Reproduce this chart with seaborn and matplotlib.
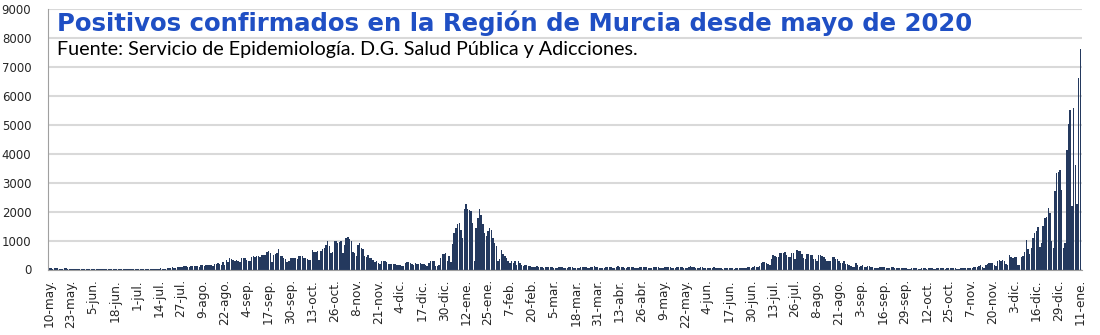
import matplotlib
matplotlib.use("Agg")
import matplotlib.pyplot as plt
import seaborn as sns
import numpy as np
import pandas as pd

# ---- data: daily confirmed positives, 10-May-2020 .. 11-Jan-2022 (13-day blocks) ----
b01 = [40, 35, 30, 38, 42, 36, 28, 25, 34, 40, 38, 30, 26]
b02 = [22, 18, 25, 30, 28, 24, 20, 15, 12, 22, 26, 20, 18]
b03 = [20, 14, 12, 18, 22, 20, 16, 14, 10, 16, 20, 24, 18]
b04 = [16, 12, 10, 18, 22, 20, 24, 18, 14, 20, 25, 22, 26]
b05 = [24, 28, 20, 16, 22, 30, 28, 26, 32, 24, 18, 26, 34]
b06 = [30, 36, 32, 28, 24, 40, 55, 60, 70, 65, 45, 70, 80]
b07 = [75, 90, 120, 110, 100, 70, 120, 130, 125, 135, 110, 90, 140]
b08 = [150, 120, 160, 170, 150, 140, 120, 175, 190, 210, 200, 170, 250]
b09 = [150, 330, 270, 390, 380, 330, 300, 330, 295, 250, 410, 400, 410]
b10 = [330, 300, 280, 420, 450, 440, 460, 450, 430, 500, 490, 510, 620]
b11 = [650, 560, 250, 500, 540, 560, 720, 470, 450, 390, 380, 270, 300]
b12 = [390, 400, 410, 400, 380, 480, 470, 460, 400, 390, 350, 330, 340]
b13 = [680, 620, 600, 650, 330, 640, 720, 740, 860, 1000, 800, 560, 600]
b14 = [975, 1000, 920, 940, 975, 560, 860, 1090, 1120, 1040, 1000, 620, 560]
b15 = [450, 860, 920, 740, 700, 450, 420, 500, 390, 400, 330, 270, 300]
b16 = [210, 200, 295, 300, 280, 250, 175, 200, 190, 200, 180, 160, 150]
b17 = [170, 130, 115, 210, 250, 260, 240, 200, 150, 210, 200, 190, 230]
b18 = [200, 190, 170, 120, 230, 280, 300, 290, 120, 130, 160, 400, 520]
b19 = [520, 580, 300, 480, 250, 890, 1270, 1440, 1580, 1610, 1380, 1100, 2080]
b20 = [2270, 2080, 2040, 2020, 1610, 290, 1440, 1790, 2080, 1900, 1560, 1270, 1150]
b21 = [1330, 1440, 1380, 1100, 920, 800, 290, 350, 690, 520, 460, 400, 290]
b22 = [230, 290, 230, 290, 170, 290, 230, 150, 115, 170, 150, 130, 110]
b23 = [100, 80, 95, 110, 90, 85, 70, 60, 90, 100, 80, 75, 70]
b24 = [65, 55, 40, 70, 80, 75, 60, 50, 45, 85, 90, 70, 65]
b25 = [60, 50, 40, 75, 95, 80, 70, 55, 45, 70, 85, 110, 90]
b26 = [70, 60, 45, 35, 40, 80, 100, 90, 75, 55, 45, 95, 110]
b27 = [90, 85, 70, 55, 50, 100, 95, 85, 80, 65, 50, 45, 90]
b28 = [95, 85, 80, 70, 55, 40, 60, 100, 90, 85, 70, 55, 45]
b29 = [40, 80, 95, 90, 75, 65, 50, 45, 85, 100, 95, 80, 60]
b30 = [50, 45, 95, 110, 90, 80, 60, 45, 40, 70, 75, 65, 55]
b31 = [50, 40, 35, 60, 70, 65, 55, 45, 35, 30, 55, 65, 60]
b32 = [55, 45, 35, 30, 50, 55, 60, 55, 50, 40, 45, 70, 80]
b33 = [60, 100, 115, 100, 70, 120, 240, 260, 265, 240, 200, 150, 380]
b34 = [500, 460, 415, 420, 580, 580, 560, 610, 500, 440, 440, 580, 560]
b35 = [380, 670, 650, 630, 550, 400, 380, 530, 540, 500, 500, 380, 380]
b36 = [300, 500, 500, 460, 440, 380, 300, 280, 300, 440, 420, 380, 360]
b37 = [300, 220, 210, 310, 185, 180, 150, 120, 90, 100, 230, 170, 90]
b38 = [120, 140, 80, 70, 115, 110, 100, 90, 50, 45, 60, 90, 85]
b39 = [95, 80, 50, 45, 60, 75, 70, 55, 40, 35, 50, 60, 55]
b40 = [50, 45, 30, 28, 45, 55, 50, 40, 30, 25, 35, 50, 45]
b41 = [30, 40, 45, 40, 30, 25, 45, 55, 50, 45, 35, 30, 40]
b42 = [55, 60, 50, 45, 35, 30, 25, 45, 60, 55, 50, 40, 35]
b43 = [60, 50, 80, 90, 100, 130, 150, 80, 60, 170, 200, 220, 240]
b44 = [230, 150, 120, 300, 320, 280, 330, 300, 180, 160, 500, 420, 400]
b45 = [415, 420, 150, 150, 440, 450, 600, 1015, 700, 550, 730, 1100, 1250]
b46 = [1330, 1480, 785, 900, 1500, 1765, 1800, 2110, 1940, 1000, 730, 2720, 3320]
b47 = [3360, 3440, 2750, 730, 900, 4130, 5030, 5510, 2200, 5570, 3610, 2280, 6610]
b48 = [7610]

tick_labels = ["10-may.", "23-may.", "5-jun.", "18-jun.", "1-jul.", "14-jul.", "27-jul.",
               "9-ago.", "22-ago.", "4-sep.", "17-sep.", "30-sep.", "13-oct.", "26-oct.",
               "8-nov.", "21-nov.", "4-dic.", "17-dic.", "30-dic.", "12-ene.", "25-ene.",
               "7-feb.", "20-feb.", "5-mar.", "18-mar.", "31-mar.", "13-abr.", "26-abr.",
               "9-may.", "22-may.", "4-jun.", "17-jun.", "30-jun.", "13-jul.", "26-jul.",
               "8-ago.", "21-ago.", "3-sep.", "16-sep.", "29-sep.", "12-oct.", "25-oct.",
               "7-nov.", "20-nov.", "3-dic.", "16-dic.", "29-dic.", "11-ene."]
y_ticks = [0, 1000, 2000, 3000, 4000, 5000, 6000, 7000, 8000, 9000]

title = "Positivos confirmados en la Región de Murcia desde mayo de 2020"
subtitle = "Fuente: Servicio de Epidemiología. D.G. Salud Pública y Adicciones."

blocks = [b01, b02, b03, b04, b05, b06, b07, b08, b09, b10, b11, b12, b13, b14, b15, b16,
          b17, b18, b19, b20, b21, b22, b23, b24, b25, b26, b27, b28, b29, b30, b31, b32,
          b33, b34, b35, b36, b37, b38, b39, b40, b41, b42, b43, b44, b45, b46, b47, b48]
values = [v for blk in blocks for v in blk]
df = pd.DataFrame({"day": np.arange(len(values)), "positivos": values})

# ---- figure ----
sns.set_style("white")
plt.rcParams["font.family"] = ["DejaVu Sans"]

fig = plt.figure(figsize=(11, 3.35), dpi=100)
ax = fig.add_axes([48 / 1100, 1 - 269.5 / 335, (1082 - 48) / 1100, (269.5 - 9) / 335])

sns.barplot(data=df, x="day", y="positivos", native_scale=True, color="#24395e",
            saturation=1, width=0.85, linewidth=0, ax=ax)

ax.set_xlim(-0.7, 612)
ax.set_ylim(0, 9000)
ax.set_yticks(y_ticks)
ax.set_yticklabels([str(t) for t in y_ticks], fontsize=8.5)
ax.set_xticks(np.arange(0, len(values), 13))
ax.set_xticklabels(tick_labels, rotation=90, fontsize=8.7)
ax.tick_params(axis="y", length=0, pad=12)
ax.tick_params(axis="x", length=5, color="#8c8c8c", width=1, pad=2)
ax.set_xlabel("")
ax.set_ylabel("")

ax.yaxis.grid(True, color="#d9d9d9", linewidth=1.5)
ax.xaxis.grid(False)
ax.set_axisbelow(True)
for s in ["top", "right"]:
    ax.spines[s].set_visible(False)
ax.spines["left"].set_color("#a0a0a0")
ax.spines["bottom"].set_color("#a0a0a0")

fig.text(57 / 1100, 1 - 23 / 335, title, color="#1f4fc4", fontsize=17.6,
         fontweight="bold", va="center", ha="left")
fig.text(57 / 1100, 1 - 50 / 335, subtitle, color="black", fontsize=14.2,
         family=["Lato", "DejaVu Sans"], va="center", ha="left")

fig.savefig("out.png", dpi=100)
